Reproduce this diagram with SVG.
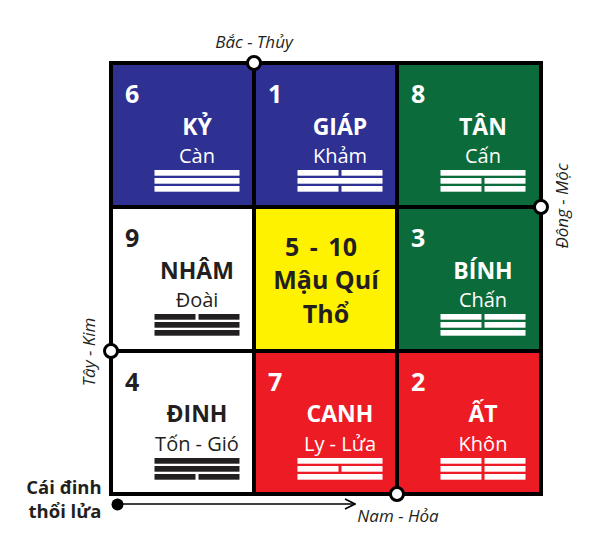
<svg xmlns="http://www.w3.org/2000/svg" width="600" height="560" viewBox="0 0 600 560">
<defs>
<style>
.num{font-family:"Open Sans","Noto Sans",sans-serif;font-weight:bold;font-size:25px}
.ttl{font-family:"Open Sans","Noto Sans",sans-serif;font-weight:bold;font-size:23px;text-anchor:middle}
.sub{font-family:"Open Sans","Noto Sans",sans-serif;font-size:20px;text-anchor:middle}
.mid{font-family:"Open Sans","Noto Sans",sans-serif;font-weight:bold;font-size:25px;text-anchor:middle;fill:#231f20}
.dir{font-family:"Open Sans","Noto Sans",sans-serif;font-style:italic;font-size:17px;text-anchor:middle;fill:#231f20}
.lbl{font-family:"Open Sans","Noto Sans",sans-serif;font-weight:bold;font-size:18.5px;text-anchor:middle;fill:#231f20}
.w{fill:#ffffff}
.k{fill:#231f20}
.cell{stroke:#000;stroke-width:4}
.pt{fill:#fff;stroke:#000;stroke-width:3}
</style>
<marker id="arr" viewBox="0 0 12 12" refX="11" refY="6" markerWidth="12" markerHeight="12" markerUnits="userSpaceOnUse" orient="auto">
<path d="M1,1 L11,6 L1,11" fill="none" stroke="#000" stroke-width="1.6"/>
</marker>
</defs>
<rect width="600" height="560" fill="#fff"/>

<g id="cell-6">
<rect class="cell" x="111" y="63" width="143" height="144" fill="#2e3192"/>
<text class="num w" x="125" y="103">6</text>
<text class="ttl w" x="197" y="135">KỶ</text>
<text class="sub w" x="197" y="163">Càn</text>
<g class="w"><rect x="154.5" y="170" width="85" height="5.7"/><rect x="154.5" y="178" width="85" height="5.7"/><rect x="154.5" y="186" width="85" height="5.7"/></g>
</g>

<g id="cell-1">
<rect class="cell" x="254" y="63" width="143" height="144" fill="#2e3192"/>
<text class="num w" x="268" y="103">1</text>
<text class="ttl w" x="340" y="135">GIÁP</text>
<text class="sub w" x="340" y="163">Khảm</text>
<g class="w"><rect x="297.5" y="170" width="41" height="5.7"/><rect x="341.5" y="170" width="41" height="5.7"/><rect x="297.5" y="178" width="85" height="5.7"/><rect x="297.5" y="186" width="41" height="5.7"/><rect x="341.5" y="186" width="41" height="5.7"/></g>
</g>

<g id="cell-8">
<rect class="cell" x="397" y="63" width="144" height="144" fill="#0b6b3a"/>
<text class="num w" x="411" y="103">8</text>
<text class="ttl w" x="483" y="135">TÂN</text>
<text class="sub w" x="483" y="163">Cấn</text>
<g class="w"><rect x="440.5" y="170" width="85" height="5.7"/><rect x="440.5" y="178" width="41" height="5.7"/><rect x="484.5" y="178" width="41" height="5.7"/><rect x="440.5" y="186" width="41" height="5.7"/><rect x="484.5" y="186" width="41" height="5.7"/></g>
</g>

<g id="cell-9">
<rect class="cell" x="111" y="207" width="143" height="144" fill="#ffffff"/>
<text class="num k" x="125" y="247">9</text>
<text class="ttl k" x="197" y="279">NHÂM</text>
<text class="sub k" x="197" y="307">Đoài</text>
<g class="k"><rect x="154.5" y="314" width="41" height="5.7"/><rect x="198.5" y="314" width="41" height="5.7"/><rect x="154.5" y="322" width="85" height="5.7"/><rect x="154.5" y="330" width="85" height="5.7"/></g>
</g>

<g id="cell-5-10">
<rect class="cell" x="254" y="207" width="143" height="144" fill="#fff200"/>
<text class="mid" x="321" y="256" font-size="31" word-spacing="4">5 - 10</text>
<text class="mid" x="326" y="289">Mậu Quí</text>
<text class="mid" x="326" y="323">Thổ</text>
</g>

<g id="cell-3">
<rect class="cell" x="397" y="207" width="144" height="144" fill="#0b6b3a"/>
<text class="num w" x="411" y="247">3</text>
<text class="ttl w" x="483" y="279">BÍNH</text>
<text class="sub w" x="483" y="307">Chấn</text>
<g class="w"><rect x="440.5" y="314" width="41" height="5.7"/><rect x="484.5" y="314" width="41" height="5.7"/><rect x="440.5" y="322" width="41" height="5.7"/><rect x="484.5" y="322" width="41" height="5.7"/><rect x="440.5" y="330" width="85" height="5.7"/></g>
</g>

<g id="cell-4">
<rect class="cell" x="111" y="351" width="143" height="143" fill="#ffffff"/>
<text class="num k" x="125" y="391">4</text>
<text class="ttl k" x="197" y="422">ĐINH</text>
<text class="sub k" x="197" y="451">Tốn - Gió</text>
<g class="k"><rect x="154.5" y="458" width="85" height="5.7"/><rect x="154.5" y="466" width="85" height="5.7"/><rect x="154.5" y="474" width="41" height="5.7"/><rect x="198.5" y="474" width="41" height="5.7"/></g>
</g>

<g id="cell-7">
<rect class="cell" x="254" y="351" width="143" height="143" fill="#ed1c24"/>
<text class="num w" x="268" y="391">7</text>
<text class="ttl w" x="340" y="422">CANH</text>
<text class="sub w" x="340" y="451">Ly - Lửa</text>
<g class="w"><rect x="297.5" y="458" width="85" height="5.7"/><rect x="297.5" y="466" width="41" height="5.7"/><rect x="341.5" y="466" width="41" height="5.7"/><rect x="297.5" y="474" width="85" height="5.7"/></g>
</g>

<g id="cell-2">
<rect class="cell" x="397" y="351" width="144" height="143" fill="#ed1c24"/>
<text class="num w" x="411" y="391">2</text>
<text class="ttl w" x="483" y="422">ẤT</text>
<text class="sub w" x="483" y="451">Khôn</text>
<g class="w"><rect x="440.5" y="458" width="41" height="5.7"/><rect x="484.5" y="458" width="41" height="5.7"/><rect x="440.5" y="466" width="41" height="5.7"/><rect x="484.5" y="466" width="41" height="5.7"/><rect x="440.5" y="474" width="41" height="5.7"/><rect x="484.5" y="474" width="41" height="5.7"/></g>
</g>

<g id="directions">
<circle class="pt" cx="254" cy="63" r="6.5"/>
<circle class="pt" cx="541" cy="207" r="6.5"/>
<circle class="pt" cx="111" cy="351" r="6.5"/>
<circle class="pt" cx="397" cy="494" r="6.5"/>
<text class="dir" x="254" y="48">Bắc - Thủy</text>
<text class="dir" transform="translate(568,206) rotate(-90)">Đông - Mộc</text>
<text class="dir" transform="translate(95,352) rotate(-90)">Tây - Kim</text>
<text class="dir" x="398" y="522">Nam - Hỏa</text>
</g>

<g id="connectors">
<circle cx="117.5" cy="504.5" r="6" fill="#000"/>
<line x1="117.5" y1="504" x2="355" y2="504" stroke="#000" stroke-width="1.6" marker-end="url(#arr)"/>
</g>

<g id="label">
<text class="lbl" x="64" y="494">Cái đinh</text>
<text class="lbl" x="65" y="518">thổi lửa</text>
</g>
</svg>
